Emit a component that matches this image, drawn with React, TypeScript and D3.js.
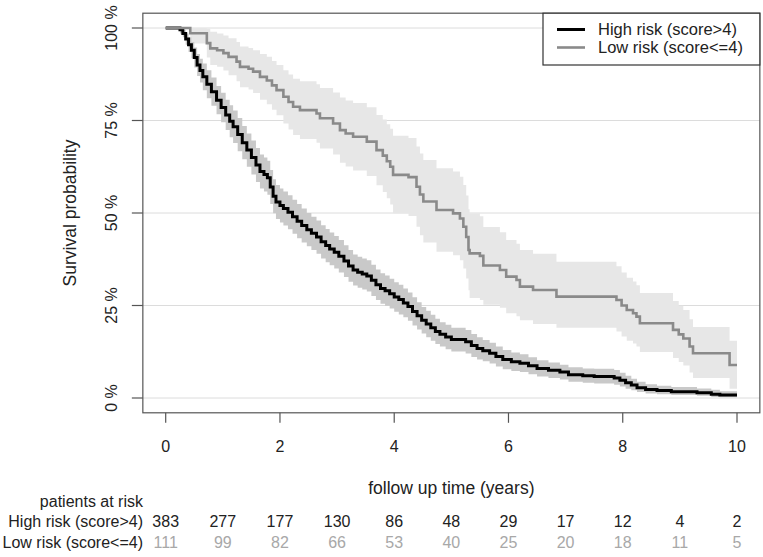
import React from "react";
import * as d3 from "d3";

// ---------- data ----------
const xTicks = [0, 2, 4, 6, 8, 10];
const yTicks = [0, 0.25, 0.5, 0.75, 1];
const yTickLabels = ["0 %", "25 %", "50 %", "75 %", "100 %"];
const seriesNames = ["High risk (score>4)", "Low risk (score<=4)"];
const xTitle = "follow up time (years)";
const yTitle = "Survival probability";
const riskTitle = "patients at risk";
const riskTimes = [0, 1, 2, 3, 4, 5, 6, 7, 8, 9, 10];
const highAtRisk = [383, 277, 177, 130, 86, 48, 29, 17, 12, 4, 2];
const lowAtRisk = [111, 99, 82, 66, 53, 40, 25, 20, 18, 11, 5];

const highTime = [0, 0.25, 0.3, 0.35, 0.4, 0.45, 0.5, 0.55, 0.6, 0.65, 0.72, 0.8, 0.89, 0.97, 1.05, 1.12, 1.18, 1.26, 1.34, 1.42, 1.5, 1.58, 1.65, 1.72, 1.78, 1.83, 1.88, 1.93, 2.0, 2.06, 2.14, 2.22, 2.3, 2.38, 2.47, 2.55, 2.64, 2.72, 2.8, 2.87, 2.95, 3.03, 3.12, 3.2, 3.28, 3.36, 3.44, 3.52, 3.6, 3.68, 3.76, 3.84, 3.92, 4.0, 4.08, 4.16, 4.24, 4.32, 4.4, 4.48, 4.56, 4.64, 4.72, 4.8, 4.9, 5.0, 5.25, 5.35, 5.45, 5.55, 5.67, 5.78, 5.9, 6.05, 6.2, 6.35, 6.5, 6.7, 6.9, 7.05, 7.3, 7.5, 7.85, 7.95, 8.05, 8.15, 8.25, 8.4, 8.6, 8.85, 9.3, 9.55, 9.7, 10.0];
const highSurv = [1.0, 0.995, 0.985, 0.97, 0.955, 0.94, 0.92, 0.9, 0.885, 0.868, 0.848, 0.828, 0.805, 0.785, 0.765, 0.748, 0.733, 0.712, 0.69, 0.67, 0.65, 0.63, 0.612, 0.604, 0.595, 0.57, 0.545, 0.53, 0.52, 0.512, 0.502, 0.49, 0.478, 0.466, 0.455, 0.445, 0.435, 0.422, 0.412, 0.403, 0.394, 0.383, 0.37, 0.357, 0.346, 0.34, 0.335, 0.33, 0.318, 0.306, 0.296, 0.29, 0.282, 0.273, 0.266, 0.257, 0.247, 0.234, 0.222, 0.21, 0.2, 0.19, 0.18, 0.172, 0.165, 0.158, 0.152, 0.142, 0.134, 0.128, 0.121, 0.112, 0.104, 0.098, 0.094, 0.087, 0.08, 0.075, 0.07, 0.063, 0.06, 0.058, 0.054, 0.048, 0.041, 0.035, 0.028, 0.023, 0.02, 0.017, 0.014, 0.01, 0.008, 0.008];
const highLower = [1.0, 0.985, 0.975, 0.955, 0.935, 0.918, 0.893, 0.87, 0.853, 0.832, 0.81, 0.79, 0.767, 0.745, 0.724, 0.705, 0.689, 0.667, 0.645, 0.625, 0.604, 0.584, 0.566, 0.558, 0.549, 0.524, 0.499, 0.484, 0.474, 0.466, 0.456, 0.444, 0.432, 0.42, 0.41, 0.4, 0.39, 0.377, 0.367, 0.359, 0.35, 0.339, 0.327, 0.314, 0.304, 0.298, 0.293, 0.288, 0.276, 0.265, 0.255, 0.249, 0.242, 0.233, 0.226, 0.218, 0.209, 0.196, 0.185, 0.174, 0.164, 0.155, 0.146, 0.139, 0.132, 0.126, 0.12, 0.111, 0.104, 0.099, 0.093, 0.085, 0.078, 0.073, 0.07, 0.064, 0.058, 0.054, 0.05, 0.044, 0.041, 0.039, 0.036, 0.031, 0.025, 0.021, 0.016, 0.012, 0.01, 0.008, 0.006, 0.003, 0.002, 0.002];
const highUpper = [1.0, 1.0, 0.995, 0.985, 0.975, 0.962, 0.947, 0.93, 0.917, 0.904, 0.886, 0.866, 0.843, 0.825, 0.806, 0.791, 0.777, 0.757, 0.735, 0.715, 0.696, 0.676, 0.658, 0.65, 0.641, 0.616, 0.591, 0.576, 0.566, 0.558, 0.548, 0.536, 0.524, 0.512, 0.5, 0.49, 0.48, 0.467, 0.457, 0.447, 0.438, 0.427, 0.413, 0.4, 0.388, 0.382, 0.377, 0.372, 0.36, 0.347, 0.337, 0.331, 0.322, 0.313, 0.306, 0.296, 0.285, 0.272, 0.259, 0.246, 0.236, 0.225, 0.214, 0.205, 0.198, 0.19, 0.184, 0.173, 0.164, 0.157, 0.149, 0.139, 0.13, 0.123, 0.118, 0.11, 0.102, 0.096, 0.09, 0.083, 0.08, 0.079, 0.076, 0.068, 0.06, 0.052, 0.044, 0.037, 0.033, 0.03, 0.026, 0.022, 0.018, 0.018];

const lowTime = [0, 0.43, 0.72, 0.78, 0.9, 1.01, 1.1, 1.24, 1.3, 1.45, 1.53, 1.65, 1.77, 1.86, 1.94, 2.06, 2.15, 2.23, 2.35, 2.64, 2.7, 2.93, 3.05, 3.15, 3.28, 3.52, 3.69, 3.8, 3.87, 3.93, 3.98, 4.25, 4.39, 4.45, 4.51, 4.74, 5.03, 5.15, 5.21, 5.26, 5.3, 5.32, 5.5, 5.56, 5.85, 5.96, 6.14, 6.2, 6.43, 6.84, 7.89, 7.98, 8.07, 8.18, 8.24, 8.3, 8.88, 8.98, 9.06, 9.17, 9.23, 9.87, 10.0];
const lowSurv = [1.0, 0.986, 0.959, 0.945, 0.94, 0.932, 0.922, 0.909, 0.895, 0.89, 0.882, 0.868, 0.858, 0.845, 0.832, 0.814, 0.8, 0.787, 0.778, 0.769, 0.756, 0.742, 0.724, 0.715, 0.706, 0.693, 0.67, 0.655, 0.64, 0.625, 0.603, 0.597, 0.571, 0.55, 0.531, 0.508, 0.499, 0.485, 0.463, 0.435, 0.4, 0.391, 0.384, 0.358, 0.346, 0.328, 0.319, 0.301, 0.292, 0.274, 0.265, 0.25, 0.238, 0.229, 0.22, 0.202, 0.184, 0.172, 0.161, 0.139, 0.121, 0.089, 0.089];
const lowLower = [1.0, 0.958, 0.92, 0.9, 0.895, 0.885, 0.872, 0.856, 0.84, 0.834, 0.824, 0.806, 0.794, 0.779, 0.764, 0.742, 0.726, 0.711, 0.7, 0.69, 0.674, 0.658, 0.636, 0.626, 0.615, 0.6, 0.575, 0.557, 0.54, 0.523, 0.499, 0.492, 0.463, 0.44, 0.42, 0.395, 0.386, 0.372, 0.35, 0.323, 0.291, 0.27, 0.265, 0.252, 0.244, 0.229, 0.221, 0.21, 0.2, 0.19, 0.18, 0.166, 0.155, 0.147, 0.139, 0.124, 0.108, 0.097, 0.088, 0.069, 0.054, 0.025, 0.025];
const lowUpper = [1.0, 1.0, 0.998, 0.99, 0.985, 0.98, 0.972, 0.962, 0.95, 0.946, 0.94, 0.93, 0.922, 0.911, 0.9, 0.886, 0.874, 0.863, 0.856, 0.848, 0.838, 0.826, 0.812, 0.804, 0.797, 0.786, 0.765, 0.753, 0.74, 0.728, 0.709, 0.703, 0.68, 0.661, 0.643, 0.621, 0.612, 0.598, 0.576, 0.547, 0.51, 0.499, 0.491, 0.462, 0.448, 0.427, 0.417, 0.4, 0.39, 0.368, 0.356, 0.339, 0.325, 0.315, 0.305, 0.284, 0.262, 0.249, 0.238, 0.213, 0.192, 0.155, 0.155];

// ---------- styling ----------
const W = 763;
const H = 557;
const FONT = "'Liberation Sans', Arial, Helvetica, sans-serif";
const HIGH_COLOR = "#000000";
const LOW_COLOR = "#8a8a8a";
const HIGH_BAND = "#c9c9c9";
const LOW_BAND = "#e7e7e7";

export default function App() {
  const x = d3.scaleLinear().domain([0, 10]).range([165.7, 737]);
  const y = d3.scaleLinear().domain([0, 1]).range([398, 28]);

  const boxL = x(-0.4);
  const boxR = x(10.4);
  const boxT = y(1.04);
  const boxB = y(-0.04);

  type P = { t: number; s: number; lo: number; hi: number };
  const mk = (ts: number[], ss: number[], ls: number[], us: number[]): P[] =>
    ts.map((t, i) => ({ t, s: ss[i], lo: ls[i], hi: us[i] }));
  const high = mk(highTime, highSurv, highLower, highUpper);
  const low = mk(lowTime, lowSurv, lowLower, lowUpper);

  const line = d3
    .line<P>()
    .x((d) => x(d.t))
    .y((d) => y(d.s))
    .curve(d3.curveStepAfter);
  const area = d3
    .area<P>()
    .x((d) => x(d.t))
    .y0((d) => y(d.lo))
    .y1((d) => y(d.hi))
    .curve(d3.curveStepAfter);

  const legendX = 543;
  const legendY = boxT;

  return (
    <svg
      width={W}
      height={H}
      style={{ position: "absolute", left: 0, top: 0, background: "#fff" }}
      fontFamily={FONT}
    >
      <rect x={0} y={0} width={W} height={H} fill="#fff" />
      {/* grid */}
      {yTicks.map((v) => (
        <line key={"g" + v} x1={boxL} x2={boxR} y1={y(v)} y2={y(v)} stroke="#dcdcdc" strokeWidth={1} />
      ))}
      {/* bands */}
      <path d={area(low) || ""} fill={LOW_BAND} />
      <path d={area(high) || ""} fill={HIGH_BAND} />
      {/* lines */}
      <path d={line(high) || ""} fill="none" stroke={HIGH_COLOR} strokeWidth={3} />
      <path d={line(low) || ""} fill="none" stroke={LOW_COLOR} strokeWidth={2.6} />
      {/* box */}
      <rect x={boxL} y={boxT} width={boxR - boxL} height={boxB - boxT} fill="none" stroke="#555" strokeWidth={1.2} />
      {/* y axis */}
      {yTicks.map((v, i) => (
        <g key={"y" + v}>
          <line x1={boxL - 11} x2={boxL} y1={y(v)} y2={y(v)} stroke="#555" strokeWidth={1.2} />
          <text
            transform={`translate(${117},${y(v)}) rotate(-90)`}
            textAnchor="middle"
            fontSize={16}
            fill="#222"
          >
            {yTickLabels[i]}
          </text>
        </g>
      ))}
      <text
        transform={`translate(${76},${(y(0) + y(1)) / 2}) rotate(-90)`}
        textAnchor="middle"
        fontSize={17.5}
        fill="#222"
      >
        {yTitle}
      </text>
      {/* x axis */}
      {xTicks.map((v) => (
        <g key={"x" + v}>
          <line x1={x(v)} x2={x(v)} y1={boxB} y2={boxB + 10} stroke="#555" strokeWidth={1.2} />
          <text x={x(v)} y={452} textAnchor="middle" fontSize={16} fill="#222">
            {v}
          </text>
        </g>
      ))}
      <text x={(boxL + boxR) / 2} y={494} textAnchor="middle" fontSize={17.5} fill="#222">
        {xTitle}
      </text>
      {/* risk table */}
      <text x={143} y={507} textAnchor="end" fontSize={16} fill="#222">
        {riskTitle}
      </text>
      <text x={143} y={527} textAnchor="end" fontSize={16} fill="#222">
        {seriesNames[0]}
      </text>
      <text x={143} y={548} textAnchor="end" fontSize={16} fill="#222">
        {seriesNames[1]}
      </text>
      {riskTimes.map((t, i) => (
        <g key={"r" + t}>
          <text x={x(t)} y={527} textAnchor="middle" fontSize={16} fill="#222">
            {highAtRisk[i]}
          </text>
          <text x={x(t)} y={548} textAnchor="middle" fontSize={16} fill="#a8a8a8">
            {lowAtRisk[i]}
          </text>
        </g>
      ))}
      {/* legend */}
      <rect x={legendX} y={legendY} width={boxR - legendX} height={65 - legendY} fill="#fff" stroke="#333" strokeWidth={1.2} />
      <line x1={557} x2={585} y1={29.5} y2={29.5} stroke={HIGH_COLOR} strokeWidth={3} />
      <line x1={557} x2={585} y1={47.5} y2={47.5} stroke={LOW_COLOR} strokeWidth={2.6} />
      <text x={598} y={29.5} dy="0.35em" fontSize={16.5} fill="#222">
        {seriesNames[0]}
      </text>
      <text x={598} y={47.5} dy="0.35em" fontSize={16.5} fill="#222">
        {seriesNames[1]}
      </text>
    </svg>
  );
}
